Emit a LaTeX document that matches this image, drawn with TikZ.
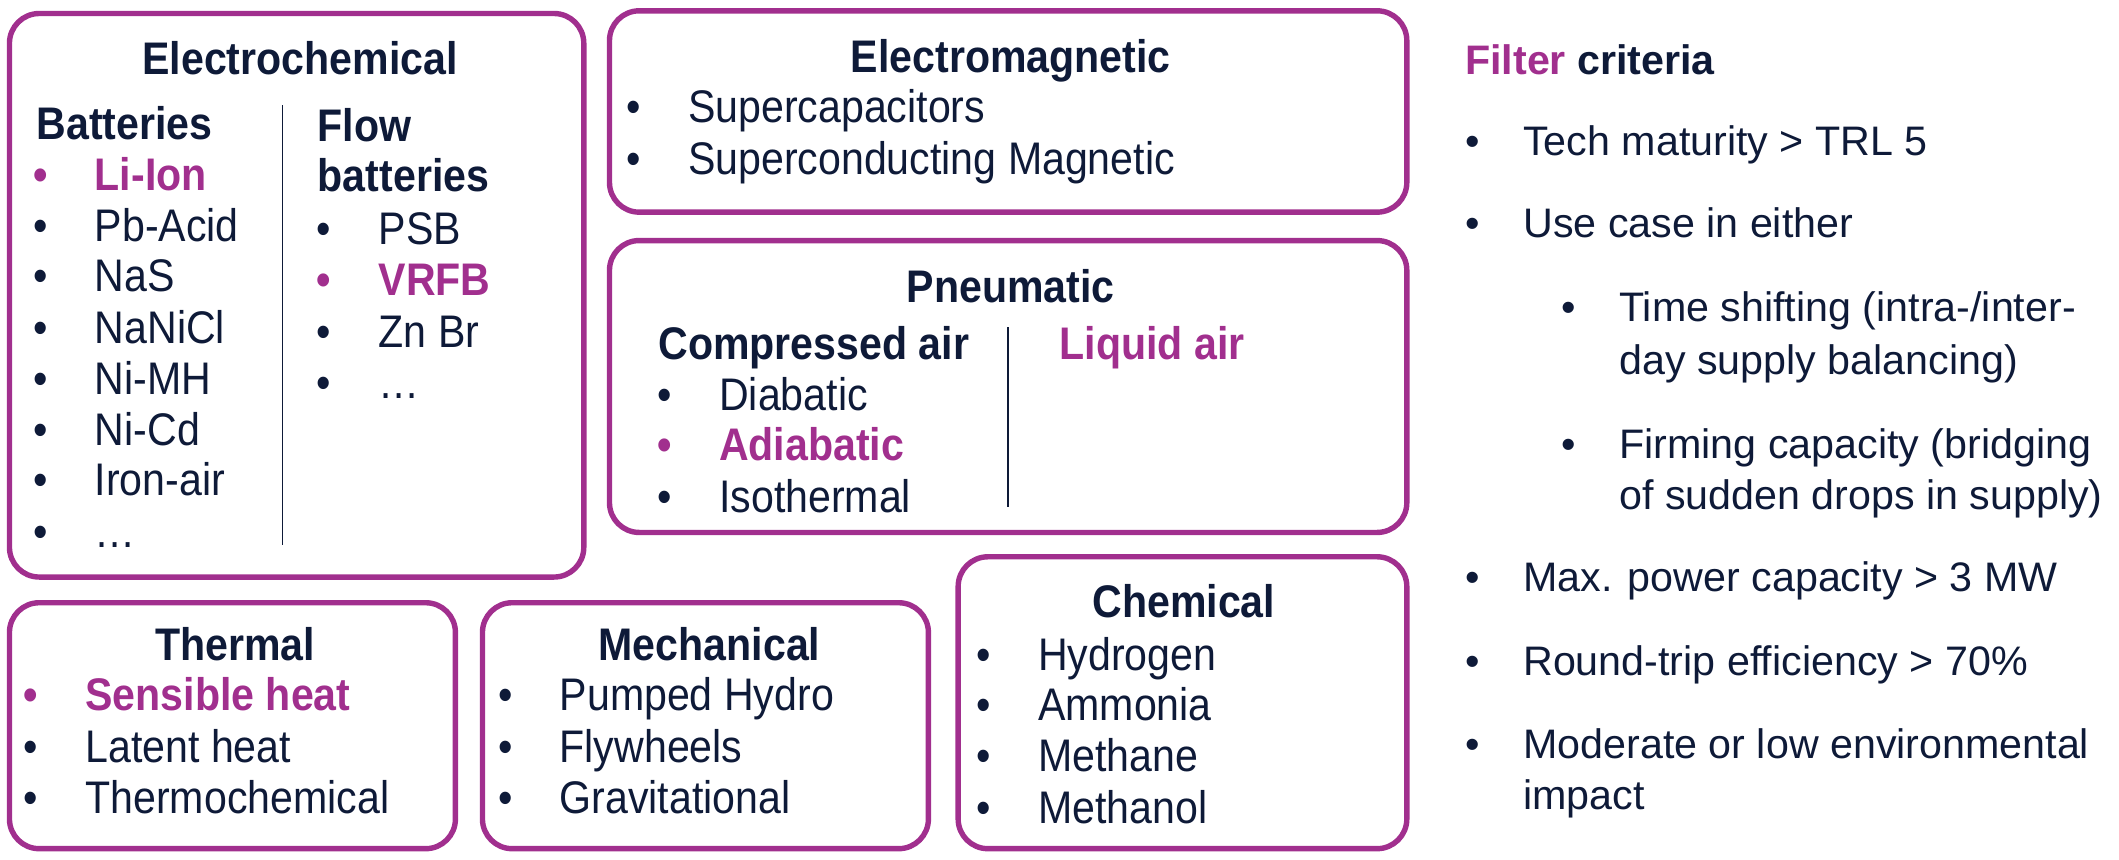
\documentclass[tikz,border=0pt]{standalone}
\usepackage{fontspec}
\setmainfont{Liberation Sans}[FakeStretch=0.9]
\newfontfamily\critfont{Liberation Sans}
\definecolor{purp}{RGB}{161,47,142}
\definecolor{navy}{RGB}{14,26,56}
\newcommand\bul{\llap{\textbullet\hspace{35pt}}}
\newcommand\cbul{\llap{\textbullet\hspace{32pt}}}

\begin{document}
\begin{tikzpicture}[x=1pt,y=-1pt,
  box/.style={draw=purp, line width=4pt, rounded corners=22pt},
  txt/.style={anchor=base west, inner sep=0pt, text=navy, font=\fontsize{33.8}{38}\selectfont},
  ttl/.style={txt, anchor=base, font=\fontsize{33.8}{38}\selectfont\bfseries},
  sub/.style={txt, font=\fontsize{33.8}{38}\selectfont\bfseries},
  hl/.style={text=purp, font=\fontsize{33.8}{38}\selectfont\bfseries},
  crit/.style={txt, font=\critfont\fontsize{30.5}{38}\selectfont}]
\useasboundingbox (0,0) rectangle (1568,636);

% boxes
\draw[box] (7,10) rectangle (432,427);
\draw[box] (451,8) rectangle (1041,157);
\draw[box] (451,178) rectangle (1041,394);
\draw[box] (7,446) rectangle (337,628);
\draw[box] (357,446) rectangle (687,628);
\draw[box] (709,412) rectangle (1041,628);
\draw[navy, line width=1.2pt] (209,78) -- (209,403);
\draw[navy, line width=1.2pt] (746,242) -- (746,375);

% electrochemical
\node[ttl] (ect) at (222,55) {Electrochemical};
\node[sub] (bat) at (27,103) {Batteries};
\node[txt,hl] (b1) at (70,141) {\bul Li-Ion};
\node[txt] (b2) at (70,179) {\bul Pb-Acid};
\node[txt] (b3) at (70,216) {\bul NaS};
\node[txt] (b4) at (70,254) {\bul NaNiCl};
\node[txt] (b5) at (70,292) {\bul Ni-MH};
\node[txt] (b6) at (70,330) {\bul Ni-Cd};
\node[txt] (b7) at (70,367) {\bul Iron-air};
\node[txt] (b8) at (70,405) {\bul …};
\node[sub] (flw) at (235,105) {Flow};
\node[sub] (flw2) at (235,142) {batteries};
\node[txt] (f1) at (280,181) {\bul PSB};
\node[txt,hl] (f2) at (280,219) {\bul VRFB};
\node[txt] (f3) at (280,257) {\bul Zn Br};
\node[txt] (f4) at (280,295) {\bul …};

% electromagnetic
\node[ttl] (emt) at (748,54) {Electromagnetic};
\node[txt] (em1) at (509,91) {\bul Supercapacitors};
\node[txt] (em2) at (509,129) {\bul Superconducting Magnetic};

% pneumatic
\node[ttl] (pnt) at (748,224) {Pneumatic};
\node[sub] (cai) at (487,266) {Compressed air};
\node[sub,hl] (lai) at (784,266) {Liquid air};
\node[txt] (p1) at (532,304) {\bul Diabatic};
\node[txt,hl] (p2) at (532,341) {\bul Adiabatic};
\node[txt] (p3) at (532,379) {\bul Isothermal};

% thermal
\node[ttl] (tht) at (174,489) {Thermal};
\node[txt,hl] (t1) at (63,526) {\bul Sensible heat};
\node[txt] (t2) at (63,564) {\bul Latent heat};
\node[txt] (t3) at (63,602) {\bul Thermochemical};

% mechanical
\node[ttl] (mct) at (525,489) {Mechanical};
\node[txt] (m1) at (414,526) {\bul Pumped Hydro};
\node[txt] (m2) at (414,564) {\bul Flywheels};
\node[txt] (m3) at (414,602) {\bul Gravitational};

% chemical
\node[ttl] (cht) at (876,457) {Chemical};
\node[txt] (c1) at (768,496) {\bul Hydrogen};
\node[txt] (c2) at (768,533) {\bul Ammonia};
\node[txt] (c3) at (768,571) {\bul Methane};
\node[txt] (c4) at (768,609) {\bul Methanol};

% filter criteria
\node[crit] (crt) at (1084,55) {\bfseries\textcolor{purp}{Filter} criteria};
\node[crit] (k1) at (1127,115) {\cbul Tech maturity > TRL 5};
\node[crit] (k2) at (1127,176) {\cbul Use case in either};
\node[crit] (k3) at (1198,238) {\cbul Time shifting (intra-/inter-};
\node[crit] (k3b) at (1198,277) {day supply balancing)};
\node[crit] (k4) at (1198,339) {\cbul Firming capacity (bridging};
\node[crit] (k4b) at (1198,377) {of sudden drops in supply)};
\node[crit] (k5) at (1127,438) {\cbul Max. power capacity > 3 MW};
\node[crit] (k6) at (1127,500) {\cbul Round-trip efficiency > 70\%};
\node[crit] (k7) at (1127,561) {\cbul Moderate or low environmental};
\node[crit] (k7b) at (1127,599) {impact};
\end{tikzpicture}
\end{document}
